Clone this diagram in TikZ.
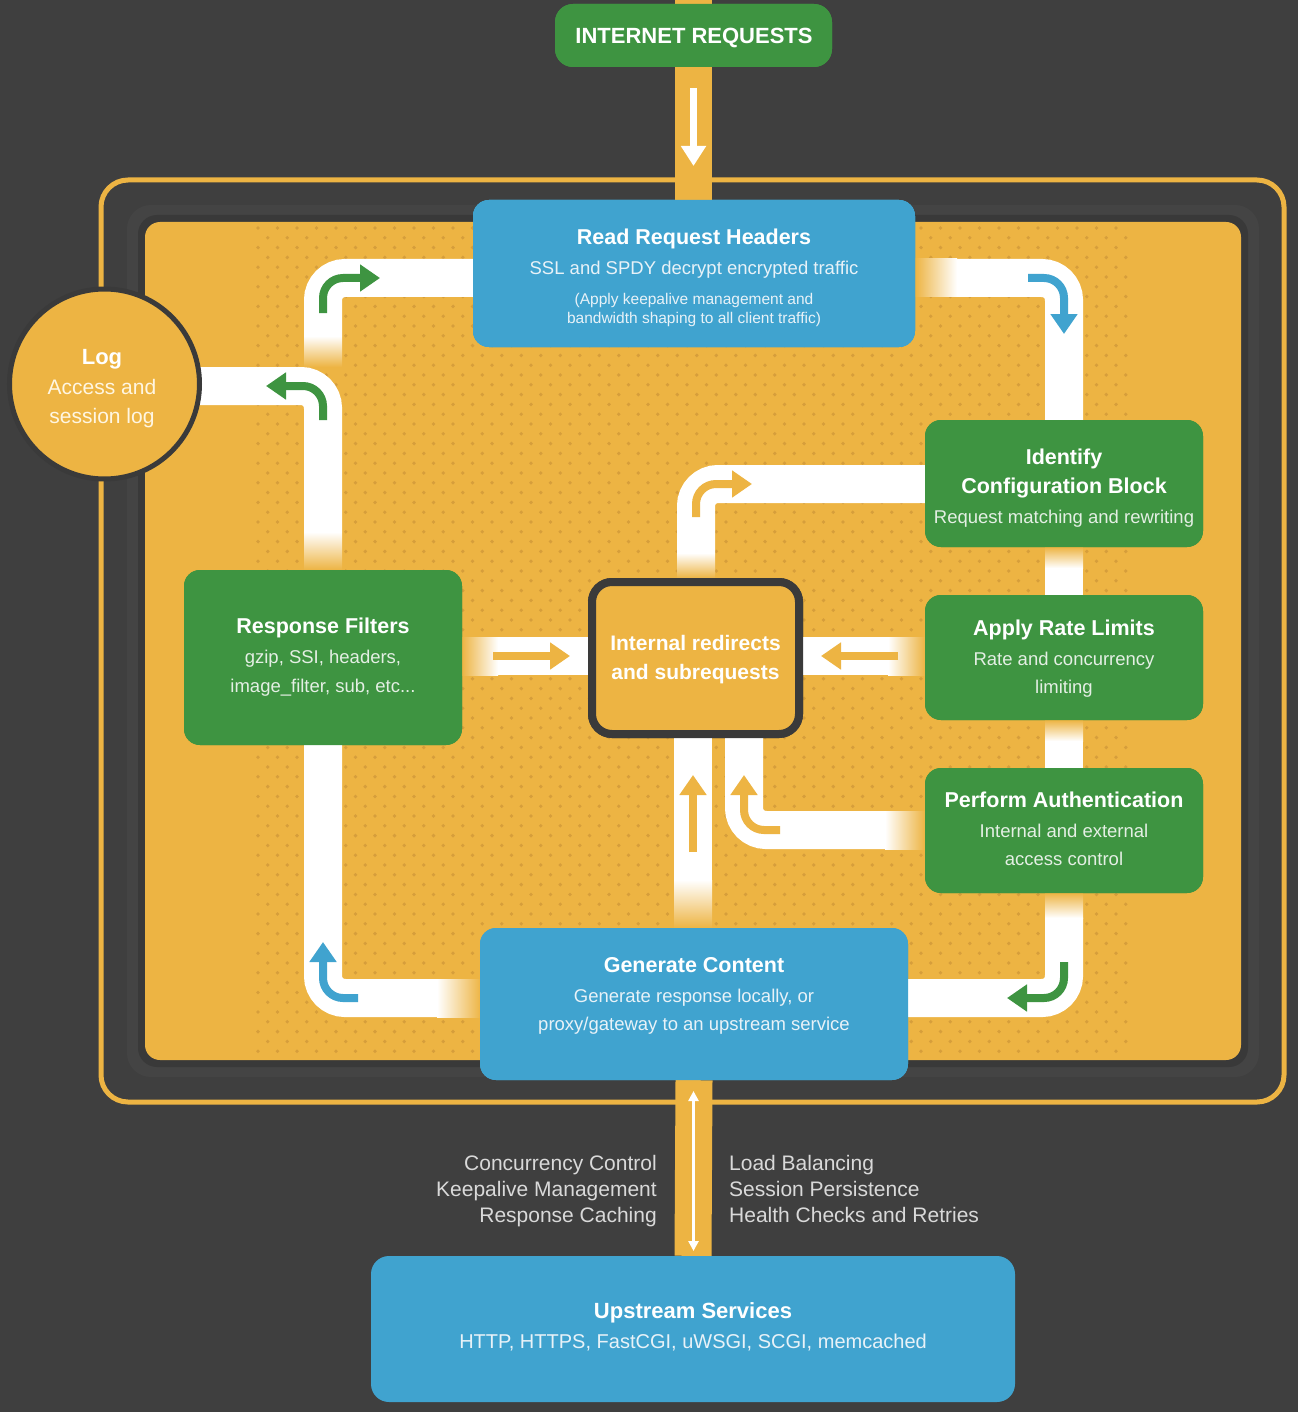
\documentclass[tikz,border=0pt]{standalone}
\usepackage{fontspec}
\setmainfont{Liberation Sans}
\usetikzlibrary{arrows.meta}
\definecolor{bg}{HTML}{3F3F3F}
\definecolor{crim}{HTML}{444444}
\definecolor{cshadow}{HTML}{393939}
\definecolor{corange}{HTML}{EDB443}
\definecolor{cdot}{HTML}{D69E3B}
\definecolor{cblue}{HTML}{40A3CF}
\definecolor{cgreen}{HTML}{3E9441}
\definecolor{cdark}{HTML}{3A3A3A}
\definecolor{csubb}{HTML}{E8F2F8}
\definecolor{csubg}{HTML}{E4EFE4}
\definecolor{csubo}{HTML}{FFF6E2}
\definecolor{cside}{HTML}{D9D9D9}
\newcommand\myfs[1]{\fontsize{#1}{#1}\selectfont}
\tikzset{
  box/.style={inner sep=0pt, rounded corners=16pt, draw=none},
  bbox/.style={box, fill=cblue},
  gbox/.style={box, fill=cgreen},
  ttl/.style={inner sep=0pt, anchor=mid, text=white, font=\bfseries\myfs{21.5}},
  subb/.style={inner sep=0pt, anchor=mid, text=csubb, font=\myfs{18.5}},
  subg/.style={inner sep=0pt, anchor=mid, text=csubg, font=\myfs{18.5}},
  side/.style={inner sep=0pt, text=cside, font=\myfs{21}},
  wpath/.style={draw=white, line width=38pt, rounded corners=22pt},
  bar/.style={draw=corange, line width=37pt},
  arr/.style={line width=8pt, rounded corners=20pt, -{Triangle[width=26pt,length=20pt]}},
}
\begin{document}
\begin{tikzpicture}[x=1pt,y=-1pt]
\useasboundingbox (0,0) rectangle (1298,1412);
\fill[bg] (0,0) rectangle (1298,1412);

% frame
\draw[corange, line width=5pt, rounded corners=27pt] (101,180) rectangle (1284,1102);
\fill[crim, rounded corners=24pt] (127,205) rectangle (1259,1077);
\fill[cshadow, rounded corners=19pt] (138,215) rectangle (1248,1067);
\fill[corange, rounded corners=15pt] (145,222) rectangle (1241,1060);

% dots
\foreach \j in {0,...,84} {
  \pgfmathsetmacro\yy{228+\j*9.8}
  \pgfmathsetmacro\off{mod(\j,2)*9.75}
  \foreach \i in {0,...,44} { \fill[cdot] (258+\off+\i*19.5,\yy) circle (1.9pt); }
}

% boxes (defined first so connectors can use names)
\node[bbox, minimum width=442pt, minimum height=147pt] (rrh) at (694,273.5) {};
\node[gbox, minimum width=278pt, minimum height=127pt] (idc) at (1064,483.5) {};
\node[gbox, minimum width=278pt, minimum height=125pt] (arl) at (1064,657.5) {};
\node[gbox, minimum width=278pt, minimum height=125pt] (pau) at (1064,830.5) {};
\node[gbox, minimum width=278pt, minimum height=175pt] (rf) at (323,657.5) {};
\node[bbox, minimum width=428pt, minimum height=152pt] (gen) at (694,1004) {};
\node[draw=cdark, line width=8pt, fill=corange, rounded corners=20pt, inner sep=0pt,
      minimum width=207pt, minimum height=152pt] (irs) at (695.5,658) {};

% top bar
\node[box, fill=cgreen, rounded corners=18pt, minimum width=277pt, minimum height=63pt] (ir) at (693.5,35.5) {};
\coordinate (topbar) at (693.5,0);
\coordinate (inner) at (693.5,222);

% ---------- white connectors ----------
% A : top-left, Read Request Headers -> down (fading)
\coordinate (a1) at (323,336);
\draw[wpath] (a1) -- (323,278) -- (rrh.west |- 0,278);
\shade[top color=white, bottom color=corange] (304,336) rectangle (342,367);
% B : Log branch -> Response Filters
\coordinate (b1) at (150,386);
\draw[wpath] (b1) -- (323,386) -- (323,532);
\shade[top color=white, bottom color=corange] (304,532) rectangle (342,570);
% C : Read Request Headers -> Identify
\shade[left color=corange, right color=white] (915,259) rectangle (957,297);
\draw[wpath] (957,278) -- (1064,278) -- (idc.north);
% Identify -> Apply
\shade[top color=corange, bottom color=white] (1045,547) rectangle (1083,568);
\fill[white] (1045,567.5) rectangle (arl.north -| 1083,0);
% Apply -> Perform
\shade[top color=corange, bottom color=white] (1045,720) rectangle (1083,741);
\fill[white] (1045,740.5) rectangle (pau.north -| 1083,0);
% D : Perform -> Generate
\shade[top color=corange, bottom color=white] (1045,893) rectangle (1083,918);
\draw[wpath] (1064,917.5) -- (1064,998) -- (gen.east |- 0,998);
% E : Generate -> Response Filters
\coordinate (e1) at (437,998);
\draw[wpath] (e1) -- (323,998) -- (rf.south);
\shade[left color=white, right color=corange] (437,979) rectangle (481,1017);
% F : Identify -> internal redirects
\draw[wpath] (idc.west |- 0,484) -- (696,484) -- (696,553);
\shade[top color=white, bottom color=corange] (677,553) rectangle (715,578);
% G : Response Filters -> internal
\shade[left color=corange, right color=white] (462,637) rectangle (498,675);
\fill[white] (497.5,637) rectangle (589,675);
% H : Apply -> internal
\fill[white] (802,637) rectangle (888.5,675);
\shade[left color=white, right color=corange] (888,637) rectangle (925,675);
% I : Generate -> internal
\fill[white] (674,737) rectangle (712,880.5);
\shade[top color=white, bottom color=corange] (674,880) rectangle (712,928);
% J : Perform -> internal
\draw[wpath] (885,830) -- (744,830) -- (744,737);
\shade[left color=white, right color=corange] (885,811) rectangle (925,849);

% redraw boxes on top of connectors
\node[bbox, minimum width=442pt, minimum height=147pt] at (rrh) {};
\node[gbox, minimum width=278pt, minimum height=127pt] at (idc) {};
\node[gbox, minimum width=278pt, minimum height=125pt] at (arl) {};
\node[gbox, minimum width=278pt, minimum height=125pt] at (pau) {};
\node[gbox, minimum width=278pt, minimum height=175pt] at (rf) {};
\node[draw=cdark, line width=8pt, fill=corange, rounded corners=20pt, inner sep=0pt,
      minimum width=207pt, minimum height=152pt] at (irs) {};

% ---------- direction arrows ----------
\draw[arr, cgreen] (323,313) -- (323,278) -- (380,278);
\draw[arr, cgreen] (323,420) -- (323,386) -- (266,386);
\draw[arr, cblue] (1028,278) -- (1064,278) -- (1064,334);
\draw[arr, cgreen] (1064,962) -- (1064,998) -- (1007,998);
\draw[arr, cblue] (358,998) -- (323,998) -- (323,942);
\draw[arr, corange] (696,517) -- (696,484) -- (752,484);
\draw[arr, corange, rounded corners=0pt] (493,656) -- (570,656);
\draw[arr, corange, rounded corners=0pt] (898,656) -- (821,656);
\draw[arr, corange, rounded corners=0pt] (693,852) -- (693,775);
\draw[arr, corange] (780,830) -- (744,830) -- (744,775);

% ---------- top / bottom bars ----------
\draw[bar] (topbar) -- (inner);
\node[box, fill=cgreen, rounded corners=18pt, minimum width=277pt, minimum height=63pt] at (ir) {};
\coordinate (ta1) at (693.5,88);
\coordinate (ta2) at (693.5,166);
\draw[white, line width=7pt, -{Triangle[width=24pt,length=20pt]}] (ta1) -- (ta2);
\node[bbox, minimum width=442pt, minimum height=147pt] at (rrh) {};

\node[box, fill=cblue, rounded corners=18pt, minimum width=644pt, minimum height=146pt] (ups) at (693,1329) {};
\draw[bar] (gen.south) -- (ups.north);
\node[bbox, minimum width=428pt, minimum height=152pt] at (gen) {};
\coordinate (da1) at (693.5,1091);
\coordinate (da2) at (693.5,1251);
\draw[white, line width=2.5pt, {Triangle[width=10pt,length=10pt]}-{Triangle[width=10pt,length=10pt]}] (da1) -- (da2);

% ---------- log circle ----------
\node[circle, fill=corange, draw=cdark, line width=5pt, minimum size=190pt, inner sep=0pt] (log) at (104.5,384) {};

% ---------- texts ----------
\begin{scope}[shift={(0,5)}]
\node[ttl, font=\bfseries\myfs{22}] (irt) at (694,36) {INTERNET REQUESTS};

\node[ttl] (rrh1) at (694,237) {Read Request Headers};
\node[subb] (rrh2) at (694,267) {SSL and SPDY decrypt encrypted traffic};
\node[subb, font=\myfs{15.5}] (rrh3) at (694,297) {(Apply keepalive management and};
\node[subb, font=\myfs{15.5}] (rrh4) at (694,316) {bandwidth shaping to all client traffic)};

\node[ttl, font=\bfseries\myfs{22}] (log1) at (102,357) {Log};
\node[subb, text=csubo, font=\myfs{21}] (log2) at (102,387) {Access and};
\node[subb, text=csubo, font=\myfs{21}] (log3) at (102,416) {session log};

\node[ttl] (idc1) at (1064,457) {Identify};
\node[ttl] (idc2) at (1064,486) {Configuration Block};
\node[subg] (idc3) at (1064,516) {Request matching and rewriting};

\node[ttl] (arl1) at (1064,628) {Apply Rate Limits};
\node[subg] (arl2) at (1064,658) {Rate and concurrency};
\node[subg] (arl3) at (1064,686) {limiting};

\node[ttl] (pau1) at (1064,800) {Perform Authentication};
\node[subg] (pau2) at (1064,830) {Internal and external};
\node[subg] (pau3) at (1064,858) {access control};

\node[ttl] (rf1) at (323,626) {Response Filters};
\node[subg] (rf2) at (323,656) {gzip, SSI, headers,};
\node[subg] (rf3) at (323,685) {image\_filter, sub, etc...};

\node[ttl, font=\bfseries\myfs{21}] (irs1) at (695.5,643) {Internal redirects};
\node[ttl, font=\bfseries\myfs{21}] (irs2) at (695.5,672) {and subrequests};

\node[ttl] (gen1) at (694,965) {Generate Content};
\node[subb] (gen2) at (694,995) {Generate response locally, or};
\node[subb] (gen3) at (694,1023) {proxy/gateway to an upstream service};

\node[ttl, font=\bfseries\myfs{22}] (ups1) at (693,1311) {Upstream Services};
\node[subb, font=\myfs{20}] (ups2) at (693,1341) {HTTP, HTTPS, FastCGI, uWSGI, SCGI, memcached};

\node[side, anchor=mid east] (l1) at (657,1163) {Concurrency Control};
\node[side, anchor=mid east] (l2) at (657,1189) {Keepalive Management};
\node[side, anchor=mid east] (l3) at (657,1215) {Response Caching};
\node[side, anchor=mid west] (r1) at (729,1163) {Load Balancing};
\node[side, anchor=mid west] (r2) at (729,1189) {Session Persistence};
\node[side, anchor=mid west] (r3) at (729,1215) {Health Checks and Retries};
\end{scope}
\end{tikzpicture}
\end{document}
